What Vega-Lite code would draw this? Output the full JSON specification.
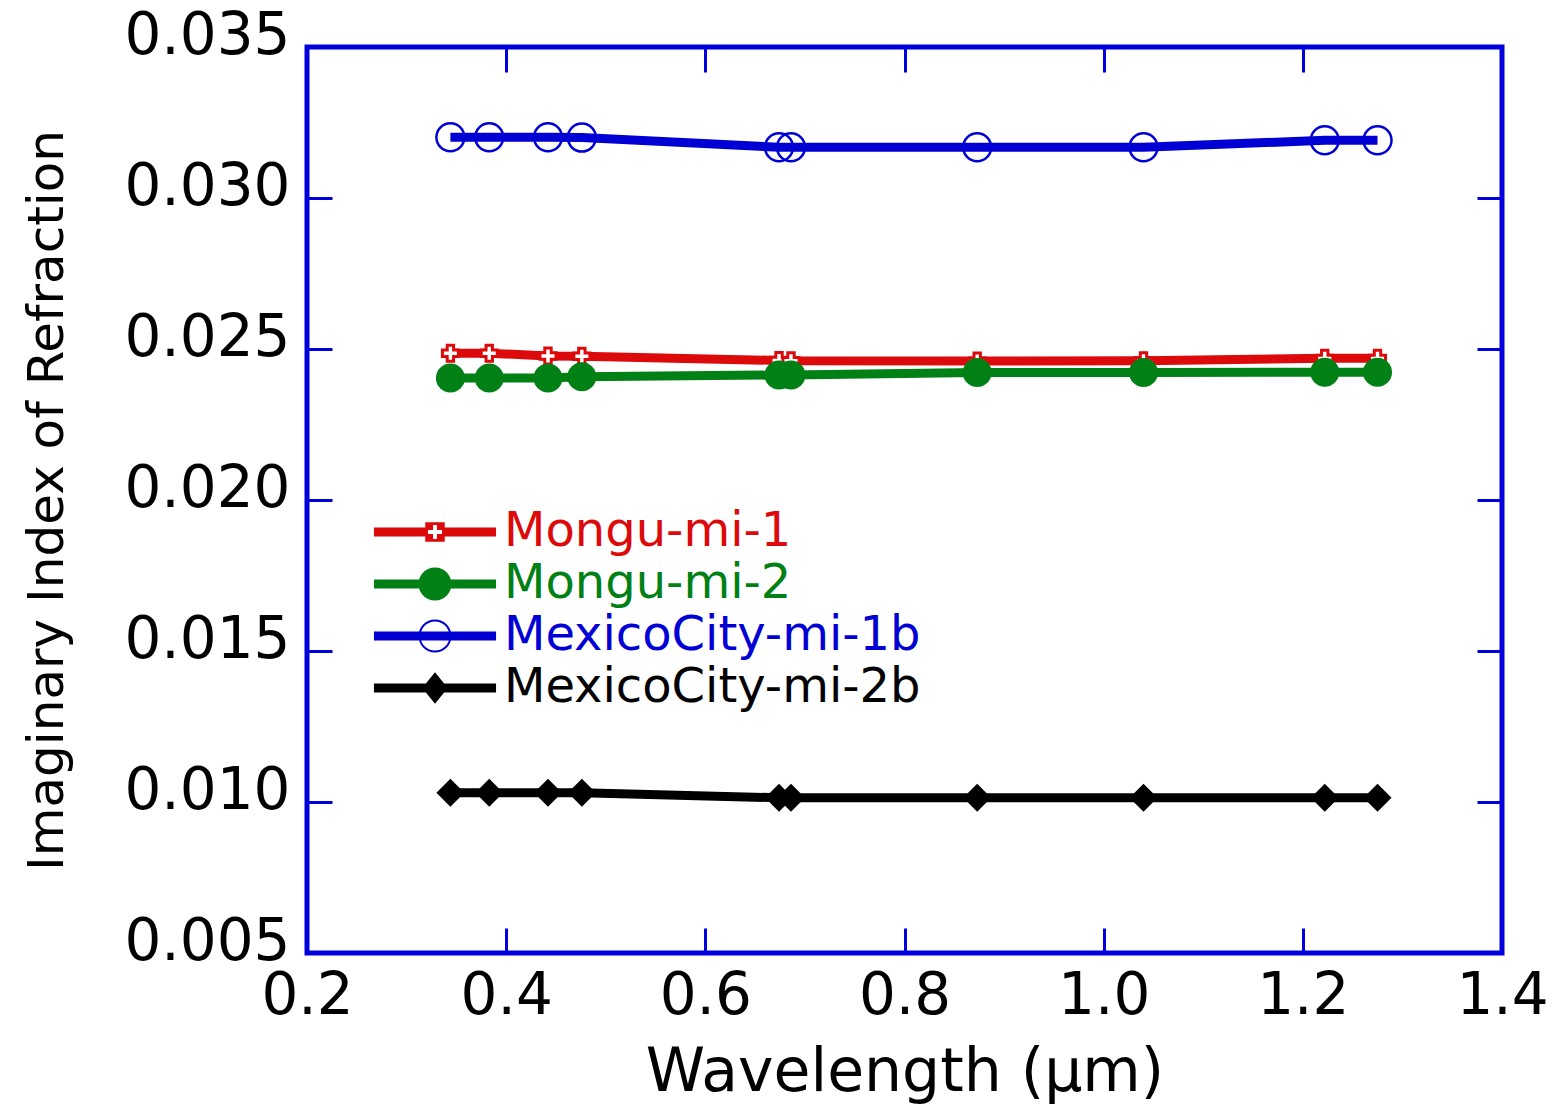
{
  "$schema": "https://vega.github.io/schema/vega-lite/v6.json",
  "autosize": "none",
  "width": 1195,
  "height": 906,
  "padding": {"left": 307, "top": 47, "right": 59, "bottom": 151},
  "background": "white",
  "config": {
    "view": {"stroke": "#0000dd", "strokeWidth": 5},
    "font": "DejaVu Sans",
    "axis": {
      "domain": false,
      "grid": false,
      "ticks": true,
      "tickColor": "#0000dd",
      "tickWidth": 3,
      "tickSize": -25,
      "labelFont": "DejaVu Sans",
      "labelFontSize": 58,
      "labelColor": "black",
      "labelFlush": false,
      "labelOverlap": false,
      "titleFont": "DejaVu Sans",
      "titleFontWeight": "normal",
      "titleColor": "black"
    }
  },
  "data": {
    "values": [
      {"series": "Mongu-mi-1", "wl": 0.344, "k": 0.02486},
      {"series": "Mongu-mi-1", "wl": 0.383, "k": 0.02486},
      {"series": "Mongu-mi-1", "wl": 0.442, "k": 0.02477},
      {"series": "Mongu-mi-1", "wl": 0.476, "k": 0.02476},
      {"series": "Mongu-mi-1", "wl": 0.674, "k": 0.02462},
      {"series": "Mongu-mi-1", "wl": 0.686, "k": 0.02461},
      {"series": "Mongu-mi-1", "wl": 0.873, "k": 0.0246},
      {"series": "Mongu-mi-1", "wl": 1.04, "k": 0.02461},
      {"series": "Mongu-mi-1", "wl": 1.222, "k": 0.02469},
      {"series": "Mongu-mi-1", "wl": 1.275, "k": 0.02469},
      {"series": "Mongu-mi-2", "wl": 0.344, "k": 0.02404},
      {"series": "Mongu-mi-2", "wl": 0.383, "k": 0.02404},
      {"series": "Mongu-mi-2", "wl": 0.442, "k": 0.02404},
      {"series": "Mongu-mi-2", "wl": 0.476, "k": 0.02408},
      {"series": "Mongu-mi-2", "wl": 0.674, "k": 0.02414},
      {"series": "Mongu-mi-2", "wl": 0.686, "k": 0.02414},
      {"series": "Mongu-mi-2", "wl": 0.873, "k": 0.02422},
      {"series": "Mongu-mi-2", "wl": 1.04, "k": 0.02422},
      {"series": "Mongu-mi-2", "wl": 1.222, "k": 0.02423},
      {"series": "Mongu-mi-2", "wl": 1.275, "k": 0.02423},
      {"series": "MexicoCity-mi-1b", "wl": 0.344, "k": 0.03201},
      {"series": "MexicoCity-mi-1b", "wl": 0.383, "k": 0.03201},
      {"series": "MexicoCity-mi-1b", "wl": 0.442, "k": 0.03201},
      {"series": "MexicoCity-mi-1b", "wl": 0.476, "k": 0.032},
      {"series": "MexicoCity-mi-1b", "wl": 0.674, "k": 0.03168},
      {"series": "MexicoCity-mi-1b", "wl": 0.686, "k": 0.03168},
      {"series": "MexicoCity-mi-1b", "wl": 0.873, "k": 0.03168},
      {"series": "MexicoCity-mi-1b", "wl": 1.04, "k": 0.03168},
      {"series": "MexicoCity-mi-1b", "wl": 1.222, "k": 0.03191},
      {"series": "MexicoCity-mi-1b", "wl": 1.275, "k": 0.03191},
      {"series": "MexicoCity-mi-2b", "wl": 0.344, "k": 0.01031},
      {"series": "MexicoCity-mi-2b", "wl": 0.383, "k": 0.01031},
      {"series": "MexicoCity-mi-2b", "wl": 0.442, "k": 0.01031},
      {"series": "MexicoCity-mi-2b", "wl": 0.476, "k": 0.01031},
      {"series": "MexicoCity-mi-2b", "wl": 0.674, "k": 0.01014},
      {"series": "MexicoCity-mi-2b", "wl": 0.686, "k": 0.01014},
      {"series": "MexicoCity-mi-2b", "wl": 0.873, "k": 0.01014},
      {"series": "MexicoCity-mi-2b", "wl": 1.04, "k": 0.01014},
      {"series": "MexicoCity-mi-2b", "wl": 1.222, "k": 0.01014},
      {"series": "MexicoCity-mi-2b", "wl": 1.275, "k": 0.01014}
    ]
  },
  "resolve": {"axis": {"x": "independent", "y": "independent"}},
  "layer": [
    {
      "transform": [{"filter": "datum.series === 'Mongu-mi-1'"}],
      "mark": {"type": "line", "strokeWidth": 9, "color": "#dc0a0a"},
      "encoding": {
        "x": {
          "field": "wl", "type": "quantitative",
          "scale": {"domain": [0.2, 1.4], "nice": false, "zero": false},
          "axis": {
            "orient": "bottom",
            "values": [0.2, 0.4, 0.6, 0.8, 1.0, 1.2, 1.4],
            "format": ".1f",
            "labelBaseline": "alphabetic",
            "labelPadding": 85,
            "title": "Wavelength (µm)",
            "titleFontSize": 60,
            "titleBaseline": "alphabetic",
            "titleY": 137
          }
        },
        "y": {
          "field": "k", "type": "quantitative",
          "scale": {"domain": [0.005, 0.035], "nice": false, "zero": false},
          "axis": {
            "orient": "left",
            "values": [0.005, 0.01, 0.015, 0.02, 0.025, 0.03, 0.035],
            "format": ".3f",
            "labelBaseline": "alphabetic",
            "labelAlign": "right",
            "labelPadding": 42,
            "labelOffset": 6,
            "title": "Imaginary Index of Refraction",
            "titleFontSize": 50,
            "titleBaseline": "alphabetic",
            "titleAngle": -90,
            "titleX": -245,
            "titleY": 453
          }
        }
      }
    },
    {
      "transform": [{"filter": "datum.series === 'Mongu-mi-2'"}],
      "mark": {"type": "line", "strokeWidth": 9, "color": "#008015"},
      "encoding": {
        "x": {"field": "wl", "type": "quantitative", "axis": null},
        "y": {"field": "k", "type": "quantitative", "axis": null}
      }
    },
    {
      "transform": [{"filter": "datum.series === 'MexicoCity-mi-1b'"}],
      "mark": {"type": "line", "strokeWidth": 9, "color": "#0000d4"},
      "encoding": {
        "x": {"field": "wl", "type": "quantitative", "axis": null},
        "y": {"field": "k", "type": "quantitative", "axis": null}
      }
    },
    {
      "transform": [{"filter": "datum.series === 'MexicoCity-mi-2b'"}],
      "mark": {"type": "line", "strokeWidth": 9, "color": "#000000"},
      "encoding": {
        "x": {"field": "wl", "type": "quantitative", "axis": null},
        "y": {"field": "k", "type": "quantitative", "axis": null}
      }
    },
    {
      "transform": [{"filter": "datum.series === 'Mongu-mi-1'"}],
      "mark": {"type": "point", "shape": "cross", "size": 256, "filled": false, "fill": "white", "stroke": "#dc0a0a", "strokeWidth": 3, "opacity": 1},
      "encoding": {
        "x": {"field": "wl", "type": "quantitative", "axis": {"orient": "top", "labels": false, "title": null, "values": [0.2, 0.4, 0.6, 0.8, 1.0, 1.2, 1.4]}},
        "y": {"field": "k", "type": "quantitative", "axis": {"orient": "right", "labels": false, "title": null, "values": [0.005, 0.01, 0.015, 0.02, 0.025, 0.03, 0.035]}}
      }
    },
    {
      "transform": [{"filter": "datum.series === 'Mongu-mi-2'"}],
      "mark": {"type": "point", "shape": "circle", "size": 841, "filled": true, "fill": "#008015", "strokeWidth": 0, "opacity": 1},
      "encoding": {
        "x": {"field": "wl", "type": "quantitative", "axis": null},
        "y": {"field": "k", "type": "quantitative", "axis": null}
      }
    },
    {
      "transform": [{"filter": "datum.series === 'MexicoCity-mi-1b'"}],
      "mark": {"type": "point", "shape": "circle", "size": 784, "filled": false, "fill": "transparent", "stroke": "#0000d4", "strokeWidth": 2.5, "opacity": 1},
      "encoding": {
        "x": {"field": "wl", "type": "quantitative", "axis": null},
        "y": {"field": "k", "type": "quantitative", "axis": null}
      }
    },
    {
      "transform": [{"filter": "datum.series === 'MexicoCity-mi-2b'"}],
      "mark": {"type": "point", "shape": "diamond", "size": 784, "filled": true, "fill": "#000000", "strokeWidth": 0, "opacity": 1},
      "encoding": {
        "x": {"field": "wl", "type": "quantitative", "axis": null},
        "y": {"field": "k", "type": "quantitative", "axis": null}
      }
    },
    {
      "mark": {"type": "point", "filled": true, "size": 0, "opacity": 1},
      "encoding": {
        "x": {"field": "wl", "type": "quantitative", "axis": null},
        "y": {"field": "k", "type": "quantitative", "axis": null},
        "color": {
          "field": "series", "type": "nominal",
          "scale": {
            "domain": ["Mongu-mi-1", "Mongu-mi-2", "MexicoCity-mi-1b", "MexicoCity-mi-2b"],
            "range": ["#dc0a0a", "#008015", "#0000d4", "#000000"]
          },
          "legend": {
            "title": null,
            "orient": "none",
            "legendX": 104,
            "legendY": 461,
            "padding": 0,
            "symbolType": {"expr": "datum.value === 'Mongu-mi-1' ? 'M-4.07,-0.3H-0.65V0.3H-4.07ZM0.65,-0.3H4.07V0.3H0.65ZM-0.65,-0.65H0.65V0.65H-0.65ZM-0.13,-0.47L-0.13,-0.13L-0.47,-0.13L-0.47,0.13L-0.13,0.13L-0.13,0.47L0.13,0.47L0.13,0.13L0.47,0.13L0.47,-0.13L0.13,-0.13L0.13,-0.47Z' : datum.value === 'Mongu-mi-2' ? 'M-4.07,-0.3H4.07V0.3H-4.07ZM-1.1,0A1.1,1.1,0,1,1,1.1,0A1.1,1.1,0,1,1,-1.1,0Z' : datum.value === 'MexicoCity-mi-1b' ? 'M-4.07,-0.3H4.07V0.3H-4.07ZM-1.1,0A1.1,1.1,0,1,1,1.1,0A1.1,1.1,0,1,1,-1.1,0ZM-0.97,0A0.97,0.97,0,1,0,0.97,0A0.97,0.97,0,1,0,-0.97,0Z' : 'M-4.07,-0.3H4.07V0.3H-4.07ZM0,-1.05L0.85,0L0,1.05L-0.85,0Z'"},
            "symbolSize": 900,
            "symbolStrokeWidth": 0,
            "symbolStrokeColor": "transparent",
            "symbolOpacity": 1,
            "labelColor": {"expr": "scale('color', datum.value)"},
            "labelFont": "DejaVu Sans",
            "labelFontSize": 48,
            "labelOffset": 45,
            "labelLimit": 0,
            "rowPadding": 4
          }
        }
      }
    }
  ]
}
